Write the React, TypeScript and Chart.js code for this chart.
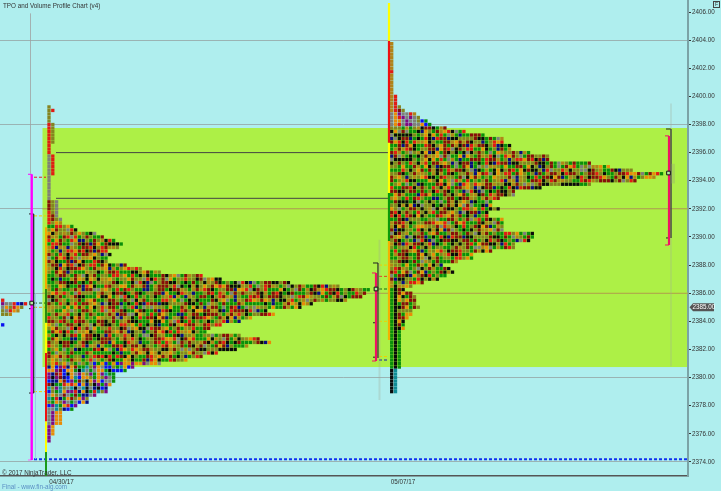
import React, { useEffect, useRef } from "react";
import { Chart, registerables } from "chart.js";

Chart.register(...registerables);

const priceTicks = [2374, 2376, 2378, 2380, 2382, 2384, 2386, 2388, 2390, 2392, 2394, 2396, 2398, 2400, 2402, 2404, 2406];
const gridPrices = [2374, 2380, 2386, 2392, 2398, 2404];
const valueAreaGrid = [2386, 2392];
const sessionTicks = [61.5, 403];
const sessionLabels = ["04/30/17", "05/07/17"];
const valueArea = [2380.75, 2397.75];
const lastPrice = 2385;

const cellPitch = 3.8;
const tickSize = 0.25;

// TPO cells per price row, from the top price downwards
const p0Top = 2385.5;
const p0Start = 2.7;
const p0Rows = ["R", "PAARBNR", "AOLROL", "LAROY", "LLY", "", "", "B"];

const p1Top = 2399.25;
const p1Start = 49;
const p1Counts = [
  1, 2, 1, 1, 1, 2, 2, 2, 2, 2, 2, 1, 1, 1, 2, 2, 2, 2, 2, 2,
  1, 1, 1, 1, 1, 1, 1, 3, 3, 3, 3, 3, 4, 4, 7, 8, 13, 15, 18, 20,
  19, 16, 17, 16, 16, 21, 25, 30, 41, 46, 64, 77, 85, 84, 83, 79, 70, 67, 58, 60,
  54, 51, 46, 43, 42, 51, 56, 59, 53, 50, 45, 41, 37, 30, 23, 21, 18, 18, 18, 17,
  16, 16, 13, 11, 11, 8, 7, 4, 4, 4, 4, 2, 2, 2, 1, 1,
];
const p1TailTop = [
  "L", "LR", "L", "L", "L", "RL", "RL", "RL", "RL", "RL", "RL", "R", "R", "R", "AR", "AR", "AR", "AR", "AR", "AR",
  "A", "A", "A", "A", "A", "A", "A", "DLA", "DLA", "DLA", "RLA", "RDA", "RDLA", "RLOY",
];
const p1TailBottom = ["APOO", "APOO", "APOO", "APOO", "PO", "PO", "PO", "P", "P"];

const p2Top = 2403.75;
const p2Start = 391.7;
const p2Counts = [
  1, 1, 1, 1, 1, 1, 1, 1, 1, 1, 1, 1, 1, 1, 1, 2, 2, 2, 3, 4,
  7, 8, 10, 11, 15, 20, 25, 30, 30, 32, 32, 37, 42, 42, 53, 58, 64, 72, 70, 65,
  53, 40, 33, 33, 29, 27, 27, 29, 26, 26, 30, 30, 30, 30, 38, 38, 37, 33, 33, 27,
  22, 22, 18, 14, 16, 17, 15, 13, 9, 6, 4, 6, 7, 7, 7, 8, 6, 6, 5, 4,
  4, 4, 3, 3, 3, 3, 3, 3, 3, 3, 3, 3, 3, 2, 2, 2, 2, 2, 2, 2,
];
const p2TailTop = [
  "Y", "Y", "Y", "Y", "Y", "Y", "Y", "Y", "R", "Y", "Y", "Y", "Y", "Y", "Y", "YR", "YR", "YR", "YRL", "YRDL",
  "AOPAARY", "AORPAPAL", "AOOAPAALBG", "AORAPPAAOBG",
];

const colorOf: Record<string, string> = {
  R: "#e01c14", D: "#860f0a", G: "#0a8f0a", K: "#0a0a0a", O: "#e88c08", Y: "#b08418",
  L: "#858420", A: "#80807a", N: "#0a0a80", B: "#0a10f0", P: "#800a80", T: "#108c96",
};
const mainColors =
  "DGLKYRDKGYKGDROLGAKLDGYNGLDORLGYKDLRGKDOLGANDKGRKLYGDKLRGDLAGKYLRDGOLKDNGLRYGLDLOGDKDLYGKANDYGOAOLDGKYRGLDKGALDOGYRNYDLLGK";
const lowColors = "APNOBGPRLOAKBPTGDOABPLNGOKBRAOPTGBLDAPOGN";

const rangeSegments = [
  { color: "rgba(160,160,160,0.4)", width: 1, x: [30.5, 30.5], p: [2405.9, 2394.5] },
  { color: "rgba(150,190,235,0.4)", width: 1, x: [35.5, 35.5], p: [2386, 2374.2] },
  { color: "rgba(160,170,150,0.3)", width: 2, x: [379.5, 379.5], p: [2389.8, 2378.4] },
  { color: "rgba(160,170,150,0.25)", width: 2, x: [671, 671], p: [2399.5, 2380.8] },
  { color: "rgba(150,160,120,0.3)", width: 4, x: [673, 673], p: [2395.2, 2393.8] },
  { color: "#ff00ff", width: 2.4, x: [31.7, 31.7], p: [2394.46, 2374.14] },
  { color: "#ff00ff", width: 1, x: [28, 31.7], p: [2394.46, 2394.46] },
  { color: "#ff60ff", width: 1, x: [28, 31.7], p: [2374.14, 2374.14] },
  { color: "#222222", width: 1.2, x: [33.7, 33.7], p: [2391.64, 2378.9] },
  { color: "#222222", width: 1, x: [29, 33.7], p: [2391.64, 2391.64] },
  { color: "#222222", width: 1, x: [29, 33.7], p: [2378.9, 2378.9] },
  { color: "#222222", width: 1, x: [29, 33], p: [2384.9, 2384.9] },
  { color: "#f5a800", width: 2, x: [46, 46], p: [2390.7, 2386.3] },
  { color: "#2a8a10", width: 2, x: [46, 46], p: [2386.3, 2383.9] },
  { color: "#ffff00", width: 2, x: [46, 46], p: [2383.9, 2381.75] },
  { color: "#ee1010", width: 2, x: [46, 46], p: [2381.75, 2376.9] },
  { color: "#ffff00", width: 2, x: [46, 46], p: [2376.9, 2374.7] },
  { color: "#1a9a1a", width: 2, x: [46, 46], p: [2374.7, 2373] },
  { color: "#ffff00", width: 2.2, x: [389, 389], p: [2406.65, 2403.95] },
  { color: "#ee1010", width: 2.2, x: [389, 389], p: [2403.95, 2396.7] },
  { color: "#ffff00", width: 2.2, x: [389, 389], p: [2396.7, 2393.13] },
  { color: "#0a9a0a", width: 2.2, x: [389, 389], p: [2393.13, 2389.72] },
  { color: "#f5b000", width: 2.2, x: [389, 389], p: [2389.72, 2382.68] },
  { color: "#f01464", width: 2.2, x: [376, 376], p: [2387.44, 2381.18] },
  { color: "#f01464", width: 1, x: [372, 376], p: [2387.44, 2387.44] },
  { color: "#f01464", width: 1, x: [372, 376], p: [2381.18, 2381.18] },
  { color: "#222222", width: 1.2, x: [378, 378], p: [2388.15, 2381.4] },
  { color: "#222222", width: 1, x: [373, 378], p: [2388.15, 2388.15] },
  { color: "#222222", width: 1, x: [373, 375], p: [2383.9, 2383.9] },
  { color: "#222222", width: 1, x: [373, 376], p: [2381.45, 2381.45] },
  { color: "#f01464", width: 2.2, x: [669, 669], p: [2397.19, 2389.43] },
  { color: "#f01464", width: 1, x: [665, 669], p: [2397.19, 2397.19] },
  { color: "#f01464", width: 1, x: [665, 669], p: [2389.43, 2389.43] },
  { color: "#222222", width: 1.4, x: [671, 671], p: [2397.68, 2389.93] },
  { color: "#222222", width: 1, x: [666, 671], p: [2397.68, 2397.68] },
  { color: "#222222", width: 1, x: [666, 669], p: [2389.93, 2389.93] },
  { color: "#444444", width: 1, x: [56, 390], p: [2396, 2396] },
  { color: "#444444", width: 1, x: [56, 390], p: [2392.75, 2392.75] },
];

const dashedSegments = [
  { color: "#e02020", width: 1, x: [34, 46], p: [2394.25, 2394.25] },
  { color: "#f0d000", width: 1, x: [34, 46], p: [2391.5, 2391.5] },
  { color: "#206020", width: 1, x: [34, 46], p: [2385.3, 2385.3] },
  { color: "#f09000", width: 1, x: [34, 46], p: [2385, 2385] },
  { color: "#f0d000", width: 1, x: [34, 46], p: [2379, 2379] },
  { color: "#f0d000", width: 1, x: [379, 388], p: [2388, 2388] },
  { color: "#e04020", width: 1, x: [379, 388], p: [2387.2, 2387.2] },
  { color: "#107010", width: 1, x: [379, 388], p: [2386.3, 2386.3] },
  { color: "#f0d000", width: 1, x: [379, 388], p: [2384, 2384] },
  { color: "#f0d000", width: 1, x: [379, 388], p: [2381.5, 2381.5] },
  { color: "#1020a0", width: 1, x: [379, 388], p: [2381.25, 2381.25] },
  { color: "#1030f0", width: 2, x: [34, 688], p: [2374.2, 2374.2] },
];

const pocMarkers = [
  { x: 31.7, p: 2385.3 },
  { x: 376, p: 2386.3 },
  { x: 668.5, p: 2394.55 },
];

type Cell = { x: number; y: number };

function pick(seq: string, row: number, col: number) {
  return seq[(col * 5 + row * row * 3 + row * 11 + ((col * row) % 7) * 13) % seq.length];
}

function buildCells(start: number, top: number, count: number[], letter: (row: number, col: number) => string) {
  const data: Cell[] = [];
  const colors: string[] = [];
  count.forEach((n, row) => {
    for (let col = 0; col < n; col++) {
      data.push({ x: start + col * cellPitch, y: top - row * tickSize });
      colors.push(colorOf[letter(row, col)]);
    }
  });
  return { data, colors };
}

const p0Cells = buildCells(p0Start, p0Top, p0Rows.map((r) => r.length), (row, col) => p0Rows[row][col]);

const p1Cells = buildCells(p1Start, p1Top, p1Counts, (row, col) => {
  if (row < p1TailTop.length) return p1TailTop[row][col] ?? "O";
  if (row >= 87) return p1TailBottom[row - 87][col];
  if (row >= 73) return pick(lowColors, row, col);
  return pick(mainColors, row, col);
});

const p2Cells = buildCells(p2Start, p2Top, p2Counts, (row, col) => {
  if (row < p2TailTop.length) return p2TailTop[row][col];
  if (row >= 93) return "KT"[col];
  if (row >= 82) return "GKG"[col];
  if (row >= 70) return col < 2 ? "GK"[col] : pick("DGDODKOL", row, col);
  return pick(mainColors, row + 50, col);
});

const TEXT_FONT = '6.3px "Liberation Sans", Arial, sans-serif';

const decorPlugin = {
  id: "decor",
  beforeDraw(chart: any) {
    const { ctx, chartArea, scales } = chart;
    const top = scales.y.getPixelForValue(valueArea[1]);
    const bottom = scales.y.getPixelForValue(valueArea[0]);
    const left = scales.x.getPixelForValue(42.5);
    ctx.save();
    ctx.fillStyle = "#adf046";
    ctx.fillRect(left, top, chartArea.right - left, bottom - top);
    ctx.restore();
  },
  afterDraw(chart: any) {
    const { ctx, scales } = chart;
    ctx.save();
    ctx.font = TEXT_FONT;
    ctx.textBaseline = "middle";
    ctx.textAlign = "left";
    ctx.fillStyle = "#333333";
    ctx.fillText("TPO and Volume Profile Chart (v4)", 3, 6);
    ctx.fillText("\u00A9 2017 NinjaTrader, LLC", 2, 473);
    ctx.fillStyle = "#5b8fc4";
    ctx.fillText("Final - www.fin-alg.com", 2, 487);

    const y = scales.y.getPixelForValue(lastPrice);
    ctx.fillStyle = "#555555";
    ctx.beginPath();
    ctx.moveTo(689.5, y);
    ctx.lineTo(693, y - 4);
    ctx.lineTo(714, y - 4);
    ctx.lineTo(714, y + 4);
    ctx.lineTo(693, y + 4);
    ctx.closePath();
    ctx.fill();
    ctx.fillStyle = "#ffffff";
    ctx.fillText(lastPrice.toFixed(2), 692.5, y + 0.3);

    ctx.strokeStyle = "#444444";
    ctx.lineWidth = 1;
    ctx.strokeRect(713.5, 1.5, 6, 6);
    ctx.fillStyle = "#333333";
    ctx.font = '5px "Liberation Sans", Arial, sans-serif';
    ctx.fillText("F", 715, 4.8);
    ctx.restore();
  },
};

function zeroPadding(s: any) {
  s.paddingTop = 0;
  s.paddingBottom = 0;
  s.paddingLeft = 0;
  s.paddingRight = 0;
}

export default function App() {
  const ref = useRef<HTMLCanvasElement>(null);

  useEffect(() => {
    if (!ref.current) return;
    const cellDataset = (c: { data: Cell[]; colors: string[] }) => ({
      data: c.data,
      showLine: false,
      pointStyle: "rect",
      pointRadius: 2.35,
      pointBorderWidth: 0,
      pointBackgroundColor: c.colors,
      order: 5,
    });
    const segment = (s: { color: string; width: number; x: number[]; p: number[] }, dash: number[], order = 2) => ({
      data: s.x.map((x, i) => ({ x, y: s.p[i] })),
      showLine: true,
      borderColor: s.color,
      borderWidth: s.width,
      borderDash: dash,
      pointRadius: 0,
      order,
    });
    const chart = new Chart(ref.current, {
      type: "scatter",
      data: {
        datasets: [
          ...valueAreaGrid.map((p) => segment({ color: "#b6ad3e", width: 1, x: [42.5, 688], p: [p, p] }, [], 10)),
          cellDataset(p0Cells),
          cellDataset(p1Cells),
          cellDataset(p2Cells),
          ...rangeSegments.map((s) => segment(s, [])),
          ...dashedSegments.map((s) => segment(s, [3, 2])),
          {
            data: pocMarkers.map((m) => ({ x: m.x, y: m.p })),
            showLine: false,
            pointStyle: "rect",
            pointRadius: 2.6,
            pointBorderWidth: 1,
            pointBorderColor: "#111111",
            pointBackgroundColor: "#b8e8a0",
            order: 1,
          },
        ],
      } as any,
      plugins: [decorPlugin],
      options: {
        responsive: false,
        animation: false,
        events: [],
        layout: { padding: 0, autoPadding: false },
        plugins: { legend: { display: false }, tooltip: { enabled: false }, title: { display: false } },
        scales: {
          x: {
            type: "linear",
            min: 0,
            max: 688,
            afterFit: (s: any) => { s.height = 15; zeroPadding(s); },
            afterBuildTicks: (s: any) => { s.ticks = sessionTicks.map((value) => ({ value })); },
            grid: { display: false, drawTicks: false },
            border: { display: true, color: "#555555", width: 1.5 },
            ticks: {
              autoSkip: false,
              maxRotation: 0,
              padding: 2,
              color: "#333333",
              font: { family: '"Liberation Sans", Arial, sans-serif', size: 6.3 },
              callback: (_v: any, i: number) => sessionLabels[i],
            },
          },
          y: {
            type: "linear",
            position: "right",
            min: 2373,
            max: 2406.855,
            afterFit: (s: any) => { s.width = 33; zeroPadding(s); },
            afterBuildTicks: (s: any) => { s.ticks = priceTicks.map((value) => ({ value })); },
            grid: {
              color: (c: any) => (gridPrices.includes(c.tick?.value) ? "rgba(140,140,140,0.6)" : "rgba(0,0,0,0)"),
              tickColor: "#333333",
              tickLength: 3,
              lineWidth: 1,
            },
            border: { display: true, color: "#7ba3a6", width: 2 },
            ticks: {
              autoSkip: false,
              padding: 1,
              color: "#333333",
              font: { family: '"Liberation Sans", Arial, sans-serif', size: 6.3 },
              callback: (v: any) => Number(v).toFixed(2),
            },
          },
        },
      },
    } as any);
    return () => chart.destroy();
  }, []);

  return (
    <div style={{ position: "absolute", left: 0, top: 0, width: 721, height: 491 }}>
      <canvas
        ref={ref}
        width={721}
        height={491}
        style={{ display: "block", background: "#afeeee", filter: "blur(0.3px)" }}
      />
    </div>
  );
}
